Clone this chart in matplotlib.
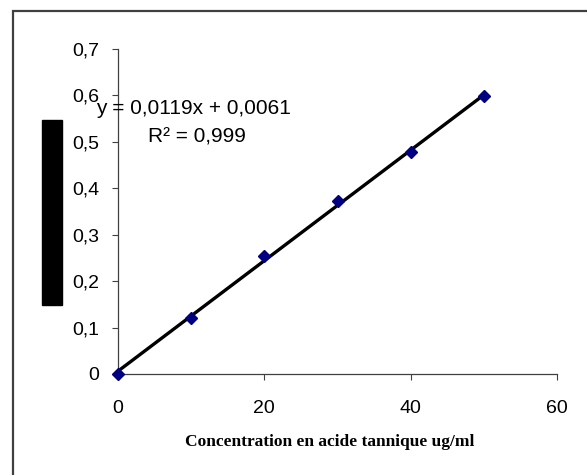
import matplotlib
matplotlib.use("Agg")
import matplotlib.pyplot as plt
from matplotlib.patches import Rectangle
import numpy as np

concentration = [0, 10, 20, 30, 40, 50]
absorbance = [0.0, 0.12, 0.255, 0.372, 0.478, 0.598]
slope = 0.0119
intercept = 0.0061
equation_label = "y = 0,0119x + 0,0061"
r2_label = "R² = 0,999"
x_ticks = [0, 20, 40, 60]
x_tick_labels = ["0", "20", "40", "60"]
y_ticks = [0, 0.1, 0.2, 0.3, 0.4, 0.5, 0.6, 0.7]
y_tick_labels = ["0", "0,1", "0,2", "0,3", "0,4", "0,5", "0,6", "0,7"]
xlabel = "Concentration en acide tannique ug/ml"

W, H = 587, 475
plt.rcParams['font.family'] = ['Liberation Sans', 'DejaVu Sans']
fig = plt.figure(figsize=(W / 100, H / 100), dpi=100)

# outer chart-area border (left and top visible)
fig.patches.append(Rectangle((13 / W, -0.1), 1.2, 1.1 - 11 / H,
                             transform=fig.transFigure, fill=False,
                             edgecolor='#404040', linewidth=1.6))

ax = fig.add_axes([118 / W, 1 - 374 / H, (557 - 118) / W, (374 - 49) / H])
ax.set_xlim(0, 60)
ax.set_ylim(0, 0.7)
ax.set_xticks(x_ticks)
ax.set_xticklabels(x_tick_labels)
ax.set_yticks(y_ticks)
ax.set_yticklabels(y_tick_labels)
for s in ['top', 'right']:
    ax.spines[s].set_visible(False)
for s in ['left', 'bottom']:
    ax.spines[s].set_color('#404040')
    ax.spines[s].set_linewidth(0.9)
ax.tick_params(direction='out', length=4, width=0.8, color='#404040',
               labelsize=14)
ax.tick_params(axis='y', pad=9.5)
ax.tick_params(axis='x', pad=14.5)

xs = np.array([min(concentration), max(concentration)])
ax.plot(xs, slope * xs + intercept, color='black', linewidth=2.4, zorder=3,
        solid_capstyle='butt')
ax.plot(concentration, absorbance, linestyle='none', marker='D',
        markersize=6, color='#000080', markeredgecolor='#000080', zorder=4,
        clip_on=False)

fig.text(96 / W, 1 - 108 / H, equation_label, fontsize=15, va='center', ha='left')
fig.text(148 / W, 1 - 137 / H, r2_label, fontsize=15, va='center', ha='left')

fig.patches.append(Rectangle((42 / W, 1 - 305 / H), 20 / W, 185 / H,
                             transform=fig.transFigure, color='black'))

fig.text(330 / W, 1 - 442 / H, xlabel, fontsize=12.5, fontweight='bold',
         family=['Liberation Serif', 'DejaVu Serif'], ha='center', va='center')

fig.savefig('out.png', dpi=100)
